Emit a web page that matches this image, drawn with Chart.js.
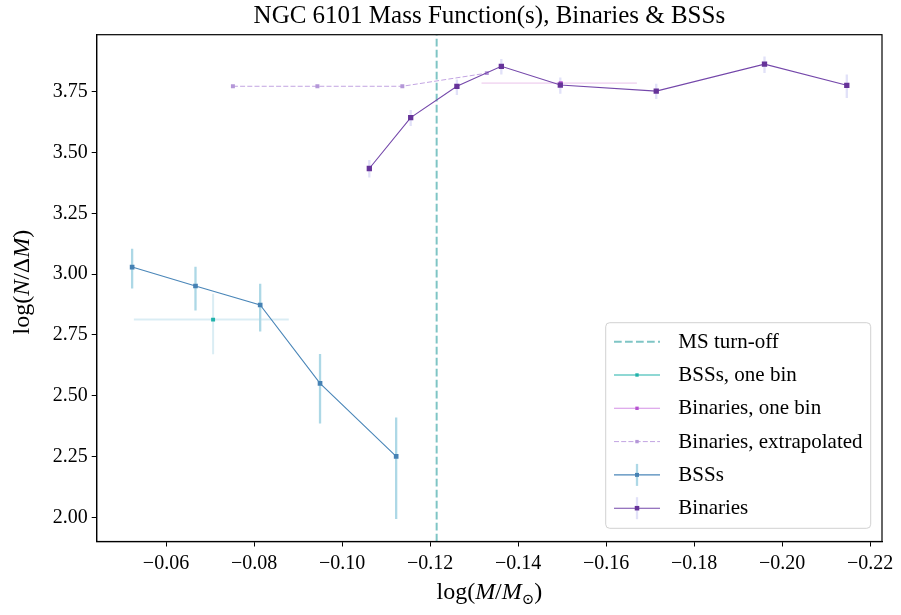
<!DOCTYPE html>
<html><head><meta charset="utf-8">
<script src="https://cdn.jsdelivr.net/npm/chart.js@4/dist/chart.umd.min.js"></script>
<style>html,body{margin:0;padding:0;background:#fff}#wrap{width:901px;height:615px;position:relative}</style>
</head><body><div id="wrap"><canvas id="c" width="901" height="615"></canvas></div>
<script>
// ---------------- data ----------------
const titleText = 'NGC 6101 Mass Function(s), Binaries & BSSs';
const msTurnoff = -0.1215;

const bssX    = [-0.0523, -0.0667, -0.0814, -0.0950, -0.1123];
const bssY    = [3.029, 2.951, 2.873, 2.551, 2.251];
const bssLow  = [2.941, 2.850, 2.764, 2.386, 1.993];
const bssHigh = [3.104, 3.030, 2.960, 2.672, 2.411];

const bssOneX     = [-0.0707];
const bssOneY     = [2.813];
const bssOneLow   = [2.671];
const bssOneHigh  = [2.919];
const bssOneXLow  = [-0.0527];
const bssOneXHigh = [-0.0879];

const binX    = [-0.1062, -0.1156, -0.1261, -0.1362, -0.1496, -0.1714, -0.1960, -0.2147];
const binY    = [3.434, 3.643, 3.772, 3.854, 3.777, 3.752, 3.863, 3.776];
const binLow  = [3.397, 3.609, 3.736, 3.820, 3.741, 3.720, 3.827, 3.724];
const binHigh = [3.469, 3.675, 3.800, 3.884, 3.808, 3.782, 3.894, 3.820];

const binOneX     = [-0.1497];
const binOneY     = [3.785];
const binOneXLow  = [-0.1317];
const binOneXHigh = [-0.1670];

const binExtX = [-0.0752, -0.0944, -0.1137, -0.1329];
const binExtY = [3.772, 3.772, 3.772, 3.826];

const xTicks = [-0.06, -0.08, -0.10, -0.12, -0.14, -0.16, -0.18, -0.20, -0.22];
const yTicks = [2.00, 2.25, 2.50, 2.75, 3.00, 3.25, 3.50, 3.75];
const xLimits = [-0.2227, -0.04425];
const yLimits = [1.901, 3.984];

// ---------------- styling ----------------
const SERIF = '"Liberation Serif", "DejaVu Serif", serif';
const C = {
  turnoff: '#7fc5c5',
  bssOne: '#20b2aa', bssOneErr: 'rgba(173,216,230,0.45)',
  binOneLine: '#d490e6', binOnePt: '#b652d0', binOneErr: '#f3dcf3',
  binExt: '#c2a4e2', binExtPt: '#b497d8',
  bssLine: '#4a86b8', bssPt: '#4682b4', bssErr: '#add8e6',
  binLine: '#7447aa', binPt: '#663399', binErr: '#e1e1f8'
};

const pts = (xs, ys) => xs.map((x, i) => ({x, y: ys[i]}));

const datasets = [
  {label: 'Binaries', data: pts(binX, binY), order: 0, borderColor: C.binLine, borderWidth: 1.1,
   pointStyle: 'rect', pointRadius: 3.75, pointBackgroundColor: C.binPt, pointBorderWidth: 0, errColor: C.binErr},
  {label: 'BSSs', data: pts(bssX, bssY), order: 1, borderColor: C.bssLine, borderWidth: 1.1,
   pointStyle: 'rect', pointRadius: 3.3, pointBackgroundColor: C.bssPt, pointBorderWidth: 0, errColor: C.bssErr},
  {label: 'Binaries, extrapolated', data: pts(binExtX, binExtY), order: 2, borderColor: C.binExt, borderWidth: 1,
   borderDash: [5, 2.2], pointStyle: 'rect', pointRadius: 2.8, pointBackgroundColor: C.binExtPt, pointBorderWidth: 0},
  {label: 'Binaries, one bin', data: pts(binOneX, binOneY), order: 3, borderColor: C.binOneLine, borderWidth: 1.1,
   pointStyle: 'rect', pointRadius: 2.8, pointBackgroundColor: C.binOnePt, pointBorderWidth: 0},
  {label: 'BSSs, one bin', data: pts(bssOneX, bssOneY), order: 4, borderColor: C.bssOne, borderWidth: 1.1,
   pointStyle: 'rect', pointRadius: 2.8, pointBackgroundColor: C.bssOne, pointBorderWidth: 0}
];
datasets.forEach(d => { d.showLine = true; d.fill = false; d.tension = 0; d.pointHoverRadius = d.pointRadius; });

const errorBars = [
  {dir: 'x', at: bssOneY, lo: bssOneXLow, hi: bssOneXHigh, color: C.bssOneErr, width: 2},
  {dir: 'y', at: bssOneX, lo: bssOneLow, hi: bssOneHigh, color: C.bssOneErr, width: 2},
  {dir: 'x', at: binOneY, lo: binOneXLow, hi: binOneXHigh, color: C.binOneErr, width: 1.8},
  {dir: 'y', at: bssX, lo: bssLow, hi: bssHigh, color: C.bssErr, width: 2.3},
  {dir: 'y', at: binX, lo: binLow, hi: binHigh, color: C.binErr, width: 2.3}
];

// ---------------- plugins ----------------
const errorBarPlugin = {
  id: 'errbars',
  beforeDatasetsDraw(chart) {
    const {ctx, chartArea: a, scales: {x, y}} = chart;
    ctx.save();
    ctx.beginPath(); ctx.rect(a.left, a.top, a.right - a.left, a.bottom - a.top); ctx.clip();
    ctx.lineCap = 'butt';
    // MS turn-off
    const tx = x.getPixelForValue(msTurnoff);
    ctx.strokeStyle = C.turnoff; ctx.lineWidth = 2; ctx.setLineDash([7.7, 3.3]);
    ctx.beginPath(); ctx.moveTo(tx, a.bottom); ctx.lineTo(tx, a.top); ctx.stroke();
    ctx.setLineDash([]);
    errorBars.forEach(e => {
      ctx.strokeStyle = e.color; ctx.lineWidth = e.width;
      e.at.forEach((v, i) => {
        ctx.beginPath();
        if (e.dir === 'y') {
          const px = x.getPixelForValue(v);
          ctx.moveTo(px, y.getPixelForValue(e.lo[i])); ctx.lineTo(px, y.getPixelForValue(e.hi[i]));
        } else {
          const py = y.getPixelForValue(v);
          ctx.moveTo(x.getPixelForValue(e.lo[i]), py); ctx.lineTo(x.getPixelForValue(e.hi[i]), py);
        }
        ctx.stroke();
      });
    });
    ctx.restore();
  }
};

function drawRich(ctx, parts, cx, baseY, size) {
  const fontOf = p => (p.it ? 'italic ' : '') + (p.sub ? size * 0.62 : size) + 'px ' + SERIF;
  let total = 0;
  const ws = parts.map(p => { ctx.font = fontOf(p); const w = ctx.measureText(p.t).width; total += w; return w; });
  let xx = cx - total / 2;
  ctx.textAlign = 'left'; ctx.textBaseline = 'alphabetic'; ctx.fillStyle = '#000';
  parts.forEach((p, i) => { ctx.font = fontOf(p); ctx.fillText(p.t, xx, baseY + (p.sub ? size * 0.2 : 0)); xx += ws[i]; });
}

const framePlugin = {
  id: 'frame',
  afterDraw(chart) {
    const {ctx, chartArea: a} = chart;
    ctx.save();
    ctx.strokeStyle = '#000'; ctx.lineWidth = 1.2;
    ctx.strokeRect(a.left, a.top, a.right - a.left, a.bottom - a.top);
    // axis titles
    drawRich(ctx, [{t: 'log('}, {t: 'M', it: true}, {t: '/'}, {t: 'M', it: true}, {t: '\u2299', sub: true}, {t: ')'}],
      (a.left + a.right) / 2, 599, 24);
    ctx.translate(29, (a.top + a.bottom) / 2 - 6);
    ctx.rotate(-Math.PI / 2);
    drawRich(ctx, [{t: 'log('}, {t: 'N', it: true}, {t: '/\u0394'}, {t: 'M', it: true}, {t: ')'}], 0, 0, 24);
    ctx.restore();

    // legend (lower right)
    const ds = chart.data.datasets;
    const find = l => ds.find(d => d.label === l);
    const entries = [
      {label: 'MS turn-off', turnoff: true},
      {label: 'BSSs, one bin', d: find('BSSs, one bin')},
      {label: 'Binaries, one bin', d: find('Binaries, one bin')},
      {label: 'Binaries, extrapolated', d: find('Binaries, extrapolated')},
      {label: 'BSSs', d: find('BSSs')},
      {label: 'Binaries', d: find('Binaries')}
    ];
    const w = 265, h = 205.6;
    const lx = a.right - 11.3 - w, ly = a.bottom - 13.2 - h;
    ctx.save();
    ctx.fillStyle = 'rgba(255,255,255,0.8)';
    ctx.strokeStyle = 'rgba(204,204,204,0.9)'; ctx.lineWidth = 1;
    ctx.beginPath(); ctx.roundRect(lx, ly, w, h, 4); ctx.fill(); ctx.stroke();
    entries.forEach((e, i) => {
      const cy = ly + 19 + i * 33.3;
      const x0 = lx + 8.3, x1 = lx + 54.3, xm = (x0 + x1) / 2;
      if (e.turnoff) {
        ctx.strokeStyle = C.turnoff; ctx.lineWidth = 2; ctx.setLineDash([7.7, 3.3]);
        ctx.beginPath(); ctx.moveTo(x0, cy); ctx.lineTo(x1, cy); ctx.stroke(); ctx.setLineDash([]);
      } else {
        const d = e.d;
        if (d.errColor) {
          ctx.strokeStyle = d.errColor; ctx.lineWidth = 2.3;
          ctx.beginPath(); ctx.moveTo(xm, cy - 11); ctx.lineTo(xm, cy + 11); ctx.stroke();
        }
        ctx.strokeStyle = d.borderColor; ctx.lineWidth = d.borderWidth;
        ctx.setLineDash(d.borderDash || []);
        ctx.beginPath(); ctx.moveTo(x0, cy); ctx.lineTo(x1, cy); ctx.stroke(); ctx.setLineDash([]);
        const s = Math.SQRT2 * d.pointRadius * 0.85;
        ctx.fillStyle = d.pointBackgroundColor;
        ctx.fillRect(xm - s / 2, cy - s / 2, s, s);
      }
      ctx.fillStyle = '#000'; ctx.font = '21px ' + SERIF;
      ctx.textAlign = 'left'; ctx.textBaseline = 'middle';
      ctx.fillText(e.label, lx + 72.6, cy + 0.5);
    });
    ctx.restore();
  }
};

// ---------------- chart ----------------
const tickFont = {family: SERIF, size: 20};
new Chart(document.getElementById('c'), {
  type: 'scatter',
  data: {datasets},
  options: {
    responsive: false, devicePixelRatio: 1, animation: false,
    layout: {padding: {left: 0, right: 19, top: 0, bottom: 0}},
    plugins: {
      legend: {display: false}, tooltip: {enabled: false},
      title: {display: true, text: titleText, color: '#000', fullSize: false,
              font: {family: SERIF, size: 25, weight: 'normal', lineHeight: 1.2}, padding: {top: 1, bottom: 3.7}}
    },
    scales: {
      x: {
        type: 'linear', reverse: true, min: xLimits[0], max: xLimits[1],
        afterBuildTicks: s => { s.ticks = xTicks.map(v => ({value: v})); },
        afterFit: s => { s.height = 73.5; },
        ticks: {color: '#000', font: tickFont, padding: 5, maxRotation: 0, autoSkip: false,
                callback: v => v.toFixed(2).replace('-', '\u2212')},
        grid: {display: true, drawOnChartArea: false, drawTicks: true, tickLength: 5, tickColor: '#000', tickWidth: 1},
        border: {display: true, color: '#000', width: 1.2}
      },
      y: {
        type: 'linear', min: yLimits[0], max: yLimits[1],
        afterBuildTicks: s => { s.ticks = yTicks.map(v => ({value: v})); },
        afterFit: s => { s.width = 96.7; },
        ticks: {color: '#000', font: tickFont, padding: 4, autoSkip: false,
                callback: v => v.toFixed(2)},
        grid: {display: true, drawOnChartArea: false, drawTicks: true, tickLength: 5, tickColor: '#000', tickWidth: 1},
        border: {display: true, color: '#000', width: 1.2}
      }
    }
  },
  plugins: [errorBarPlugin, framePlugin]
});
</script>
</body></html>
